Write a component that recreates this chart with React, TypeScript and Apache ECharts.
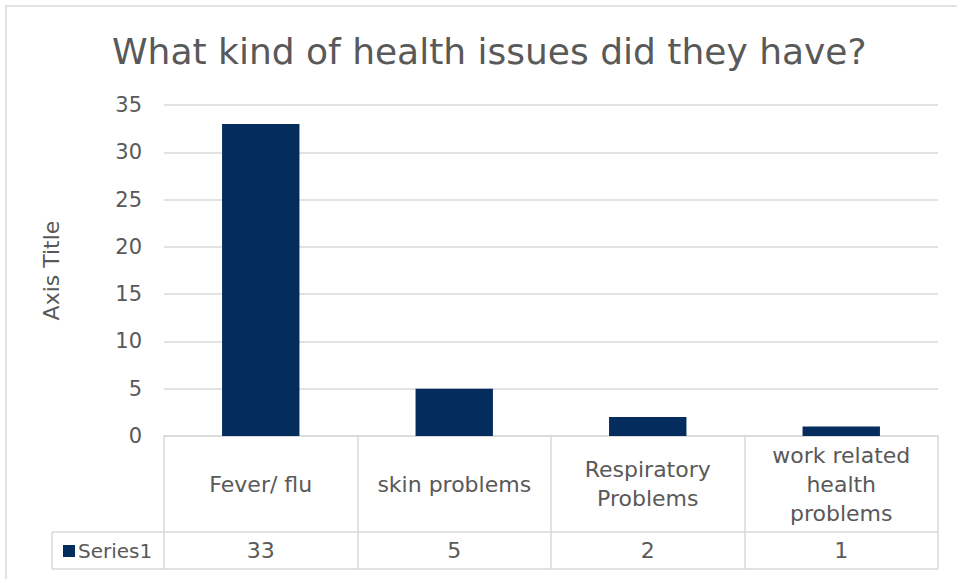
import React, { useEffect, useRef } from "react";
import * as echarts from "echarts";

const title = "What kind of health issues did they have?";
const categories = ["Fever/ flu", "skin problems", "Respiratory\nProblems", "work related\nhealth\nproblems"];
const values = [33, 5, 2, 1];
const seriesName = "Series1";
const yAxisName = "Axis Title";

const FONT = "'DejaVu Sans', sans-serif";
const TXT = "#595959";
const GRID = "#d9d9d9";
const BAR = "#042d5e";

export default function App() {
  const ref = useRef<HTMLDivElement>(null);
  useEffect(() => {
    if (!ref.current) return;
    const chart = echarts.init(ref.current, null, { renderer: "svg" });
    chart.setOption({
      animation: false,
      backgroundColor: "#fff",
      textStyle: { fontFamily: FONT },
      title: {
        text: title,
        left: 107,
        top: 28,
        textStyle: { fontFamily: FONT, fontSize: 36, fontWeight: "normal", color: TXT },
      },
      legend: {
        data: [seriesName],
        left: 58,
        top: 536,
        icon: "rect",
        itemWidth: 12,
        itemHeight: 12,
        itemGap: 4,
        textStyle: { fontFamily: FONT, fontSize: 20, color: TXT, padding: [0, 0, 0, -2] },
        selectedMode: false,
      },
      grid: { left: 164, right: 19, top: 105, bottom: 143, containLabel: false },
      xAxis: [
        {
          type: "category",
          data: categories,
          axisLine: { show: true, lineStyle: { color: GRID, width: 1.5 } },
          axisTick: { show: true, length: 133, lineStyle: { color: GRID, width: 1.5 } },
          axisLabel: {
            interval: 0,
            margin: 48,
            verticalAlign: "middle",
            color: TXT,
            fontFamily: FONT,
            fontSize: 22,
            lineHeight: 29,
          },
        },
        {
          type: "category",
          data: values.map(String),
          position: "bottom",
          axisLine: { show: false },
          axisTick: { show: false },
          axisLabel: {
            interval: 0,
            margin: 114,
            verticalAlign: "middle",
            color: TXT,
            fontFamily: FONT,
            fontSize: 22,
          },
        },
      ],
      yAxis: {
        type: "value",
        min: 0,
        max: 35,
        interval: 5,
        name: yAxisName,
        nameLocation: "middle",
        nameGap: 102,
        nameTextStyle: { fontFamily: FONT, fontSize: 22, color: TXT },
        axisLine: { show: false },
        axisTick: { show: false },
        axisLabel: { color: TXT, fontFamily: FONT, fontSize: 21, margin: 22 },
        splitLine: { lineStyle: { color: GRID, width: 1.5 } },
      },
      series: [
        {
          name: seriesName,
          type: "bar",
          data: values,
          barWidth: "40%",
          itemStyle: { color: BAR },
        },
      ],
      graphic: [
        { type: "rect", shape: { x: 6, y: 6, width: 1000, height: 700 }, style: { fill: "none", stroke: GRID, lineWidth: 1.5 }, silent: true },
        { type: "line", shape: { x1: 52, y1: 532, x2: 938, y2: 532 }, style: { stroke: GRID, lineWidth: 1.5 } },
        { type: "line", shape: { x1: 52, y1: 569, x2: 938, y2: 569 }, style: { stroke: GRID, lineWidth: 1.5 } },
        { type: "line", shape: { x1: 52, y1: 532, x2: 52, y2: 569 }, style: { stroke: GRID, lineWidth: 1.5 } },
      ],
    });
    return () => chart.dispose();
  }, []);
  return <div ref={ref} style={{ position: "fixed", left: 0, top: 0, width: 957, height: 579 }} />;
}
